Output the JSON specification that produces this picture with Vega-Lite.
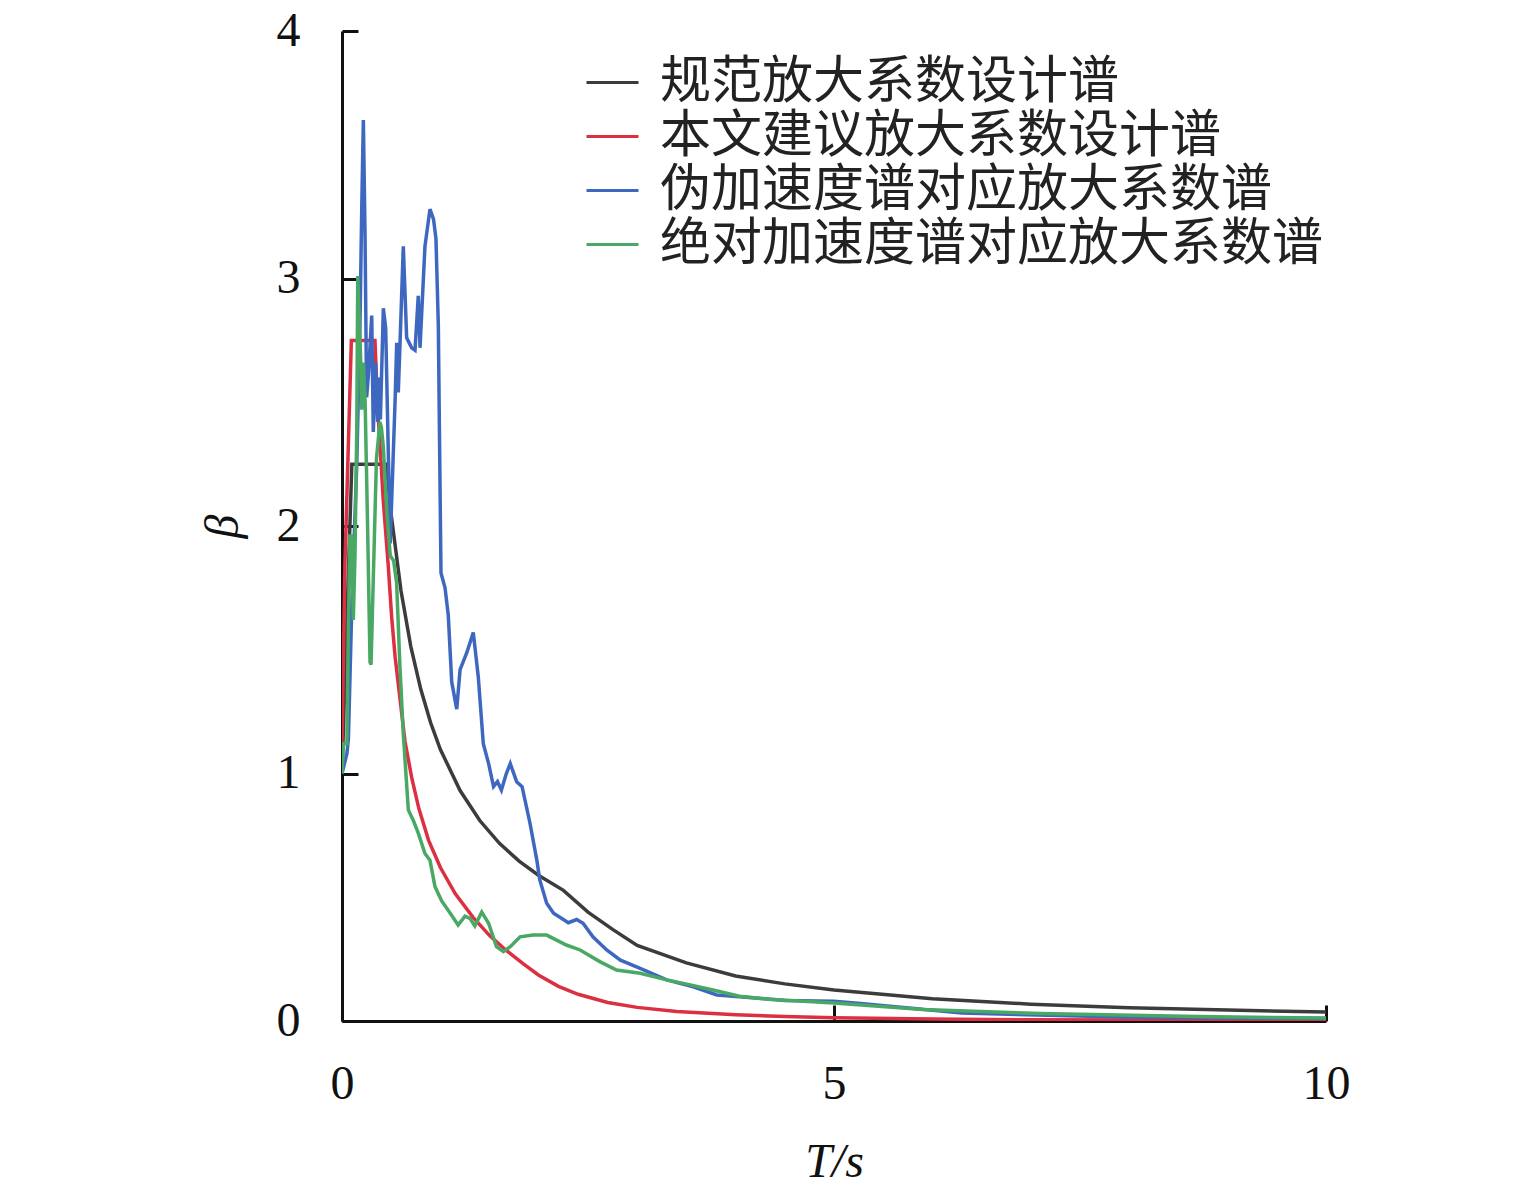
{
  "$schema": "https://vega.github.io/schema/vega-lite/v6.json",
  "autosize": {"type": "none"},
  "width": 984,
  "height": 990,
  "padding": {"left": 342, "top": 31, "right": 209, "bottom": 174},
  "background": "white",
  "data": {
    "values": [
      {"s": "规范放大系数设计谱", "t": 0, "b": 1.0},
      {"s": "规范放大系数设计谱", "t": 0.1, "b": 2.25},
      {"s": "规范放大系数设计谱", "t": 0.45, "b": 2.25},
      {"s": "规范放大系数设计谱", "t": 0.5, "b": 2.046},
      {"s": "规范放大系数设计谱", "t": 0.6, "b": 1.737},
      {"s": "规范放大系数设计谱", "t": 0.7, "b": 1.512},
      {"s": "规范放大系数设计谱", "t": 0.8, "b": 1.341},
      {"s": "规范放大系数设计谱", "t": 0.9, "b": 1.206},
      {"s": "规范放大系数设计谱", "t": 1.0, "b": 1.097},
      {"s": "规范放大系数设计谱", "t": 1.2, "b": 0.931},
      {"s": "规范放大系数设计谱", "t": 1.4, "b": 0.81},
      {"s": "规范放大系数设计谱", "t": 1.6, "b": 0.718},
      {"s": "规范放大系数设计谱", "t": 1.8, "b": 0.646},
      {"s": "规范放大系数设计谱", "t": 2.0, "b": 0.588},
      {"s": "规范放大系数设计谱", "t": 2.25, "b": 0.528},
      {"s": "规范放大系数设计谱", "t": 2.5, "b": 0.44},
      {"s": "规范放大系数设计谱", "t": 2.75, "b": 0.37},
      {"s": "规范放大系数设计谱", "t": 3.0, "b": 0.305},
      {"s": "规范放大系数设计谱", "t": 3.5, "b": 0.235},
      {"s": "规范放大系数设计谱", "t": 4.0, "b": 0.182},
      {"s": "规范放大系数设计谱", "t": 4.5, "b": 0.15},
      {"s": "规范放大系数设计谱", "t": 5.0, "b": 0.125},
      {"s": "规范放大系数设计谱", "t": 6.0, "b": 0.09},
      {"s": "规范放大系数设计谱", "t": 7.0, "b": 0.068},
      {"s": "规范放大系数设计谱", "t": 8.0, "b": 0.054},
      {"s": "规范放大系数设计谱", "t": 9.0, "b": 0.044},
      {"s": "规范放大系数设计谱", "t": 10.0, "b": 0.036},

      {"s": "本文建议放大系数设计谱", "t": 0, "b": 1.12},
      {"s": "本文建议放大系数设计谱", "t": 0.03, "b": 1.85},
      {"s": "本文建议放大系数设计谱", "t": 0.095, "b": 2.75},
      {"s": "本文建议放大系数设计谱", "t": 0.335, "b": 2.75},
      {"s": "本文建议放大系数设计谱", "t": 0.36, "b": 2.5},
      {"s": "本文建议放大系数设计谱", "t": 0.39, "b": 2.3},
      {"s": "本文建议放大系数设计谱", "t": 0.42, "b": 2.1},
      {"s": "本文建议放大系数设计谱", "t": 0.47, "b": 1.84},
      {"s": "本文建议放大系数设计谱", "t": 0.505, "b": 1.63},
      {"s": "本文建议放大系数设计谱", "t": 0.54, "b": 1.47},
      {"s": "本文建议放大系数设计谱", "t": 0.59, "b": 1.3},
      {"s": "本文建议放大系数设计谱", "t": 0.64, "b": 1.13},
      {"s": "本文建议放大系数设计谱", "t": 0.71, "b": 0.98},
      {"s": "本文建议放大系数设计谱", "t": 0.78, "b": 0.86},
      {"s": "本文建议放大系数设计谱", "t": 0.88, "b": 0.73},
      {"s": "本文建议放大系数设计谱", "t": 1.0, "b": 0.62},
      {"s": "本文建议放大系数设计谱", "t": 1.15, "b": 0.515},
      {"s": "本文建议放大系数设计谱", "t": 1.33, "b": 0.42},
      {"s": "本文建议放大系数设计谱", "t": 1.5, "b": 0.345},
      {"s": "本文建议放大系数设计谱", "t": 1.67, "b": 0.285},
      {"s": "本文建议放大系数设计谱", "t": 1.84, "b": 0.232},
      {"s": "本文建议放大系数设计谱", "t": 2.0, "b": 0.185},
      {"s": "本文建议放大系数设计谱", "t": 2.2, "b": 0.14},
      {"s": "本文建议放大系数设计谱", "t": 2.4, "b": 0.108},
      {"s": "本文建议放大系数设计谱", "t": 2.7, "b": 0.075},
      {"s": "本文建议放大系数设计谱", "t": 3.0, "b": 0.055},
      {"s": "本文建议放大系数设计谱", "t": 3.4, "b": 0.038},
      {"s": "本文建议放大系数设计谱", "t": 4.0, "b": 0.025},
      {"s": "本文建议放大系数设计谱", "t": 4.5, "b": 0.018},
      {"s": "本文建议放大系数设计谱", "t": 5.0, "b": 0.013},
      {"s": "本文建议放大系数设计谱", "t": 6.0, "b": 0.008},
      {"s": "本文建议放大系数设计谱", "t": 7.0, "b": 0.005},
      {"s": "本文建议放大系数设计谱", "t": 8.0, "b": 0.004},
      {"s": "本文建议放大系数设计谱", "t": 10.0, "b": 0.002},

      {"s": "伪加速度谱对应放大系数谱", "t": 0, "b": 1.0},
      {"s": "伪加速度谱对应放大系数谱", "t": 0.05, "b": 1.08},
      {"s": "伪加速度谱对应放大系数谱", "t": 0.065, "b": 1.14},
      {"s": "伪加速度谱对应放大系数谱", "t": 0.1, "b": 1.68},
      {"s": "伪加速度谱对应放大系数谱", "t": 0.15, "b": 2.25},
      {"s": "伪加速度谱对应放大系数谱", "t": 0.183, "b": 2.82},
      {"s": "伪加速度谱对应放大系数谱", "t": 0.2, "b": 3.27},
      {"s": "伪加速度谱对应放大系数谱", "t": 0.217, "b": 3.64},
      {"s": "伪加速度谱对应放大系数谱", "t": 0.234, "b": 3.18},
      {"s": "伪加速度谱对应放大系数谱", "t": 0.25, "b": 2.52},
      {"s": "伪加速度谱对应放大系数谱", "t": 0.27, "b": 2.62},
      {"s": "伪加速度谱对应放大系数谱", "t": 0.302, "b": 2.85},
      {"s": "伪加速度谱对应放大系数谱", "t": 0.318, "b": 2.38},
      {"s": "伪加速度谱对应放大系数谱", "t": 0.342, "b": 2.66},
      {"s": "伪加速度谱对应放大系数谱", "t": 0.363, "b": 2.42},
      {"s": "伪加速度谱对应放大系数谱", "t": 0.38, "b": 2.6},
      {"s": "伪加速度谱对应放大系数谱", "t": 0.39, "b": 2.43},
      {"s": "伪加速度谱对应放大系数谱", "t": 0.42, "b": 2.88},
      {"s": "伪加速度谱对应放大系数谱", "t": 0.444, "b": 2.8},
      {"s": "伪加速度谱对应放大系数谱", "t": 0.49, "b": 1.93},
      {"s": "伪加速度谱对应放大系数谱", "t": 0.539, "b": 2.5},
      {"s": "伪加速度谱对应放大系数谱", "t": 0.556, "b": 2.74},
      {"s": "伪加速度谱对应放大系数谱", "t": 0.572, "b": 2.54},
      {"s": "伪加速度谱对应放大系数谱", "t": 0.589, "b": 2.73},
      {"s": "伪加速度谱对应放大系数谱", "t": 0.623, "b": 3.13},
      {"s": "伪加速度谱对应放大系数谱", "t": 0.657, "b": 2.76},
      {"s": "伪加速度谱对应放大系数谱", "t": 0.708, "b": 2.72},
      {"s": "伪加速度谱对应放大系数谱", "t": 0.742, "b": 2.71},
      {"s": "伪加速度谱对应放大系数谱", "t": 0.775, "b": 2.93},
      {"s": "伪加速度谱对应放大系数谱", "t": 0.793, "b": 2.72},
      {"s": "伪加速度谱对应放大系数谱", "t": 0.843, "b": 3.13},
      {"s": "伪加速度谱对应放大系数谱", "t": 0.894, "b": 3.28},
      {"s": "伪加速度谱对应放大系数谱", "t": 0.93, "b": 3.24},
      {"s": "伪加速度谱对应放大系数谱", "t": 0.955, "b": 3.16},
      {"s": "伪加速度谱对应放大系数谱", "t": 0.979, "b": 2.81},
      {"s": "伪加速度谱对应放大系数谱", "t": 0.99, "b": 2.39},
      {"s": "伪加速度谱对应放大系数谱", "t": 1.006, "b": 1.81},
      {"s": "伪加速度谱对应放大系数谱", "t": 1.047, "b": 1.75},
      {"s": "伪加速度谱对应放大系数谱", "t": 1.08, "b": 1.64},
      {"s": "伪加速度谱对应放大系数谱", "t": 1.115, "b": 1.37},
      {"s": "伪加速度谱对应放大系数谱", "t": 1.166, "b": 1.26},
      {"s": "伪加速度谱对应放大系数谱", "t": 1.2, "b": 1.42},
      {"s": "伪加速度谱对应放大系数谱", "t": 1.27, "b": 1.49},
      {"s": "伪加速度谱对应放大系数谱", "t": 1.334, "b": 1.57},
      {"s": "伪加速度谱对应放大系数谱", "t": 1.385, "b": 1.39},
      {"s": "伪加速度谱对应放大系数谱", "t": 1.436, "b": 1.12},
      {"s": "伪加速度谱对应放大系数谱", "t": 1.49, "b": 1.04},
      {"s": "伪加速度谱对应放大系数谱", "t": 1.54, "b": 0.947},
      {"s": "伪加速度谱对应放大系数谱", "t": 1.58, "b": 0.967},
      {"s": "伪加速度谱对应放大系数谱", "t": 1.62, "b": 0.933},
      {"s": "伪加速度谱对应放大系数谱", "t": 1.67, "b": 1.0},
      {"s": "伪加速度谱对应放大系数谱", "t": 1.71, "b": 1.04},
      {"s": "伪加速度谱对应放大系数谱", "t": 1.775, "b": 0.967},
      {"s": "伪加速度谱对应放大系数谱", "t": 1.83, "b": 0.947},
      {"s": "伪加速度谱对应放大系数谱", "t": 1.91, "b": 0.8},
      {"s": "伪加速度谱对应放大系数谱", "t": 1.98, "b": 0.65},
      {"s": "伪加速度谱对应放大系数谱", "t": 2.01, "b": 0.57},
      {"s": "伪加速度谱对应放大系数谱", "t": 2.08, "b": 0.476},
      {"s": "伪加速度谱对应放大系数谱", "t": 2.15, "b": 0.435},
      {"s": "伪加速度谱对应放大系数谱", "t": 2.23, "b": 0.415},
      {"s": "伪加速度谱对应放大系数谱", "t": 2.3, "b": 0.397},
      {"s": "伪加速度谱对应放大系数谱", "t": 2.385, "b": 0.41},
      {"s": "伪加速度谱对应放大系数谱", "t": 2.45, "b": 0.395},
      {"s": "伪加速度谱对应放大系数谱", "t": 2.55, "b": 0.34},
      {"s": "伪加速度谱对应放大系数谱", "t": 2.69, "b": 0.287},
      {"s": "伪加速度谱对应放大系数谱", "t": 2.83, "b": 0.246},
      {"s": "伪加速度谱对应放大系数谱", "t": 3.03, "b": 0.213},
      {"s": "伪加速度谱对应放大系数谱", "t": 3.3, "b": 0.166},
      {"s": "伪加速度谱对应放大系数谱", "t": 3.57, "b": 0.138},
      {"s": "伪加速度谱对应放大系数谱", "t": 3.81, "b": 0.105},
      {"s": "伪加速度谱对应放大系数谱", "t": 4.04, "b": 0.098},
      {"s": "伪加速度谱对应放大系数谱", "t": 4.5, "b": 0.083},
      {"s": "伪加速度谱对应放大系数谱", "t": 5.0, "b": 0.08},
      {"s": "伪加速度谱对应放大系数谱", "t": 5.3, "b": 0.07},
      {"s": "伪加速度谱对应放大系数谱", "t": 6.3, "b": 0.032},
      {"s": "伪加速度谱对应放大系数谱", "t": 7.9, "b": 0.016},
      {"s": "伪加速度谱对应放大系数谱", "t": 10.0, "b": 0.01},

      {"s": "绝对加速度谱对应放大系数谱", "t": 0, "b": 1.0},
      {"s": "绝对加速度谱对应放大系数谱", "t": 0.015, "b": 1.12},
      {"s": "绝对加速度谱对应放大系数谱", "t": 0.05, "b": 1.12},
      {"s": "绝对加速度谱对应放大系数谱", "t": 0.065, "b": 1.6},
      {"s": "绝对加速度谱对应放大系数谱", "t": 0.08, "b": 1.96},
      {"s": "绝对加速度谱对应放大系数谱", "t": 0.098, "b": 1.96},
      {"s": "绝对加速度谱对应放大系数谱", "t": 0.115, "b": 1.62},
      {"s": "绝对加速度谱对应放大系数谱", "t": 0.132, "b": 1.88},
      {"s": "绝对加速度谱对应放大系数谱", "t": 0.15, "b": 2.39},
      {"s": "绝对加速度谱对应放大系数谱", "t": 0.16, "b": 3.01},
      {"s": "绝对加速度谱对应放大系数谱", "t": 0.19, "b": 2.67},
      {"s": "绝对加速度谱对应放大系数谱", "t": 0.2, "b": 2.47},
      {"s": "绝对加速度谱对应放大系数谱", "t": 0.217, "b": 2.66},
      {"s": "绝对加速度谱对应放大系数谱", "t": 0.235, "b": 2.5},
      {"s": "绝对加速度谱对应放大系数谱", "t": 0.26, "b": 2.0},
      {"s": "绝对加速度谱对应放大系数谱", "t": 0.285, "b": 1.45},
      {"s": "绝对加速度谱对应放大系数谱", "t": 0.295, "b": 1.44},
      {"s": "绝对加速度谱对应放大系数谱", "t": 0.35, "b": 2.27},
      {"s": "绝对加速度谱对应放大系数谱", "t": 0.385, "b": 2.42},
      {"s": "绝对加速度谱对应放大系数谱", "t": 0.4, "b": 2.4},
      {"s": "绝对加速度谱对应放大系数谱", "t": 0.42, "b": 2.32},
      {"s": "绝对加速度谱对应放大系数谱", "t": 0.455, "b": 2.06},
      {"s": "绝对加速度谱对应放大系数谱", "t": 0.49, "b": 1.88},
      {"s": "绝对加速度谱对应放大系数谱", "t": 0.525, "b": 1.86},
      {"s": "绝对加速度谱对应放大系数谱", "t": 0.555, "b": 1.77},
      {"s": "绝对加速度谱对应放大系数谱", "t": 0.589, "b": 1.43},
      {"s": "绝对加速度谱对应放大系数谱", "t": 0.623, "b": 1.16},
      {"s": "绝对加速度谱对应放大系数谱", "t": 0.674, "b": 0.853},
      {"s": "绝对加速度谱对应放大系数谱", "t": 0.725, "b": 0.81},
      {"s": "绝对加速度谱对应放大系数谱", "t": 0.776, "b": 0.758},
      {"s": "绝对加速度谱对应放大系数谱", "t": 0.843, "b": 0.677},
      {"s": "绝对加速度谱对应放大系数谱", "t": 0.894, "b": 0.65},
      {"s": "绝对加速度谱对应放大系数谱", "t": 0.945, "b": 0.543},
      {"s": "绝对加速度谱对应放大系数谱", "t": 1.013, "b": 0.485},
      {"s": "绝对加速度谱对应放大系数谱", "t": 1.1, "b": 0.435},
      {"s": "绝对加速度谱对应放大系数谱", "t": 1.18, "b": 0.388},
      {"s": "绝对加速度谱对应放大系数谱", "t": 1.25, "b": 0.424},
      {"s": "绝对加速度谱对应放大系数谱", "t": 1.3, "b": 0.415},
      {"s": "绝对加速度谱对应放大系数谱", "t": 1.35, "b": 0.384},
      {"s": "绝对加速度谱对应放大系数谱", "t": 1.42, "b": 0.44},
      {"s": "绝对加速度谱对应放大系数谱", "t": 1.49, "b": 0.395},
      {"s": "绝对加速度谱对应放大系数谱", "t": 1.57, "b": 0.3},
      {"s": "绝对加速度谱对应放大系数谱", "t": 1.64, "b": 0.28},
      {"s": "绝对加速度谱对应放大系数谱", "t": 1.71, "b": 0.3},
      {"s": "绝对加速度谱对应放大系数谱", "t": 1.81, "b": 0.34},
      {"s": "绝对加速度谱对应放大系数谱", "t": 1.94, "b": 0.347},
      {"s": "绝对加速度谱对应放大系数谱", "t": 2.08, "b": 0.347},
      {"s": "绝对加速度谱对应放大系数谱", "t": 2.28, "b": 0.307},
      {"s": "绝对加速度谱对应放大系数谱", "t": 2.42, "b": 0.287},
      {"s": "绝对加速度谱对应放大系数谱", "t": 2.62, "b": 0.24},
      {"s": "绝对加速度谱对应放大系数谱", "t": 2.79, "b": 0.206},
      {"s": "绝对加速度谱对应放大系数谱", "t": 3.03, "b": 0.193},
      {"s": "绝对加速度谱对应放大系数谱", "t": 3.3, "b": 0.166},
      {"s": "绝对加速度谱对应放大系数谱", "t": 3.54, "b": 0.146},
      {"s": "绝对加速度谱对应放大系数谱", "t": 3.77, "b": 0.125},
      {"s": "绝对加速度谱对应放大系数谱", "t": 4.04, "b": 0.1},
      {"s": "绝对加速度谱对应放大系数谱", "t": 4.34, "b": 0.088},
      {"s": "绝对加速度谱对应放大系数谱", "t": 5.0, "b": 0.073},
      {"s": "绝对加速度谱对应放大系数谱", "t": 5.9, "b": 0.046},
      {"s": "绝对加速度谱对应放大系数谱", "t": 7.1, "b": 0.03},
      {"s": "绝对加速度谱对应放大系数谱", "t": 8.7, "b": 0.018},
      {"s": "绝对加速度谱对应放大系数谱", "t": 10.0, "b": 0.012}
    ]
  },
  "mark": {"type": "line", "strokeWidth": 3.5, "clip": true},
  "encoding": {
    "x": {
      "field": "t",
      "type": "quantitative",
      "scale": {"domain": [0, 10], "nice": false, "zero": true},
      "axis": {
        "values": [0, 5, 10],
        "labelFlush": false,
        "title": "T/s",
        "titleFontStyle": "italic",
        "titlePadding": 30
      }
    },
    "y": {
      "field": "b",
      "type": "quantitative",
      "scale": {"domain": [0, 4], "nice": false},
      "axis": {
        "values": [0, 1, 2, 3, 4],
        "labelFlush": false,
        "title": "β",
        "titleFontStyle": "italic",
        "titlePadding": 29
      }
    },
    "color": {
      "field": "s",
      "type": "nominal",
      "sort": null,
      "scale": {
        "domain": ["规范放大系数设计谱", "本文建议放大系数设计谱", "伪加速度谱对应放大系数谱", "绝对加速度谱对应放大系数谱"],
        "range": ["#3c3c3e", "#dc2f41", "#3e68bf", "#4aa865"]
      },
      "legend": {
        "orient": "none",
        "legendX": 243,
        "legendY": 24,
        "title": null,
        "symbolType": "stroke",
        "symbolSize": 2704,
        "symbolStrokeWidth": 3,
        "labelFont": "Noto Sans CJK SC",
        "labelFontSize": 51,
        "labelColor": "#222222",
        "labelOffset": 20,
        "rowPadding": 1,
        "padding": 0,
        "labelLimit": 1000
      }
    }
  },
  "config": {
    "view": {"stroke": null},
    "axis": {
      "grid": false,
      "domainColor": "#111111",
      "domainWidth": 3,
      "tickColor": "#111111",
      "tickWidth": 3,
      "tickSize": -16,
      "labelFont": "Liberation Serif",
      "labelFontSize": 48,
      "labelColor": "#111111",
      "titleFont": "Liberation Serif",
      "titleFontSize": 48,
      "titleFontWeight": "normal",
      "titleColor": "#111111"
    },
    "axisX": {"labelPadding": 55},
    "axisY": {"labelPadding": 58}
  }
}
